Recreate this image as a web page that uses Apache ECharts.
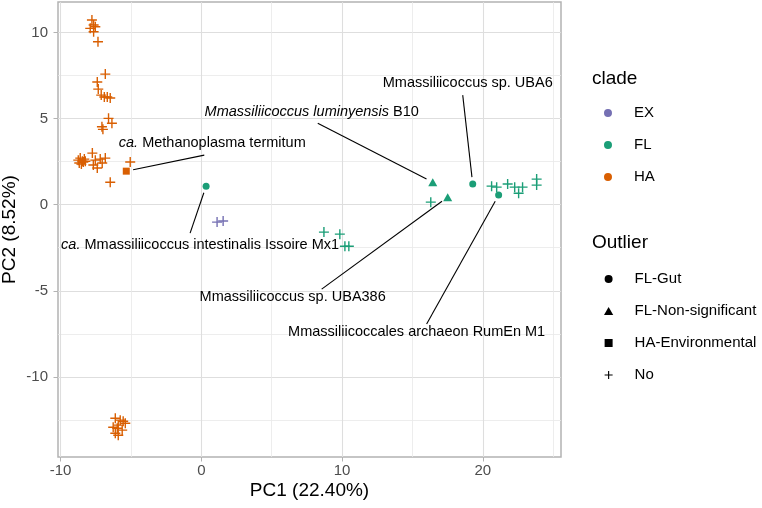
<!DOCTYPE html>
<html><head><meta charset="utf-8">
<script src="https://cdn.jsdelivr.net/npm/echarts@6/dist/echarts.min.js"></script>
<style>html,body{margin:0;padding:0;background:#fff}#c{width:762px;height:508px}</style>
</head><body><div id="c"></div>
<script>
// ---- tick values ----
const xMajorTicks = [-10, 0, 10, 20];
const xMinorTicks = [-5, 5, 15, 25];
const yMajorTicks = [-10, -5, 0, 5, 10];
const yMinorTicks = [-12.5, -7.5, -2.5, 2.5, 7.5];

// ---- categories ----
const cladeNames = ['EX', 'FL', 'HA'];
const outlierNames = ['FL-Gut', 'FL-Non-significant', 'HA-Environmental', 'No'];

// ---- data [PC1, PC2] ----
const EX_No = [[1.12, -1.01], [1.55, -0.95]];
const FL_Gut = [[0.34, 1.08], [19.28, 1.20], [21.12, 0.56]];
const FL_NonSig = [[16.44, 1.31], [17.50, 0.44]];
const FL_No = [[16.30, 0.15], [20.62, 1.08], [20.98, 1.02], [21.76, 1.20], [22.26, 1.02],
  [22.54, 0.67], [22.82, 1.02], [23.82, 1.49], [23.82, 1.14],
  [8.71, -1.59], [9.84, -1.71], [10.20, -2.41], [10.48, -2.41]];
const HA_Env = [[-5.33, 1.95]];
const HA_No = [
  [-7.77, 10.73], [-7.65, 10.44], [-7.89, 10.25], [-7.53, 10.34], [-7.65, 10.05], [-7.34, 9.47],
  [-6.82, 7.59], [-7.39, 7.13], [-7.32, 6.72], [-7.11, 6.37], [-6.89, 6.26], [-6.68, 6.26], [-6.47, 6.20],
  [-6.59, 5.02], [-6.35, 4.73], [-7.06, 4.53], [-6.99, 4.38],
  [-8.74, 2.59], [-8.60, 2.71], [-8.45, 2.53], [-8.31, 2.65], [-8.67, 2.42], [-8.52, 2.36], [-8.38, 2.48], [-8.24, 2.53],
  [-7.74, 3.00], [-7.53, 2.59], [-7.18, 2.65], [-6.82, 2.71], [-7.67, 2.31], [-7.39, 2.13], [-7.04, 2.42],
  [-5.05, 2.48], [-6.47, 1.31],
  [-6.11, -12.41], [-5.76, -12.52], [-5.55, -12.58], [-5.40, -12.70], [-5.90, -12.81],
  [-6.26, -12.93], [-5.97, -12.99], [-5.62, -13.10], [-6.11, -13.28], [-5.90, -13.40]];

// ---- labelled genomes ----
const labelTexts = [
  'Mmassiliicoccus sp. UBA6',
  '{i|Mmassiliicoccus luminyensis} B10',
  '{i|ca.} Methanoplasma termitum',
  '{i|ca.} Mmassiliicoccus intestinalis Issoire Mx1',
  'Mmassiliicoccus sp. UBA386',
  'Mmassiliicoccales archaeon RumEn M1'
];
const labelPoints = [FL_Gut[1], FL_NonSig[0], HA_Env[0], FL_Gut[0], FL_NonSig[1], FL_Gut[2]];

// ---- label layout (pixel offsets: label centre from point, segment end from label centre) ----
const LABEL_LAYOUT = [
  {dx: -5, dy: -101, ex: -5, ey: 12},
  {dx: -121, dy: -70, ex: 6, ey: 11},
  {dx: 86, dy: -28, ex: -8, ey: 12},
  {dx: -6, dy: 59, ex: -10, ey: -12},
  {dx: -155, dy: 100, ex: 29, ey: -8},
  {dx: -82, dy: 137, ex: 10, ey: -8}
];

const FONT = '"Liberation Sans", Arial, Helvetica, sans-serif';
const COLORS = {EX: '#7570B3', FL: '#1B9E77', HA: '#D95F02'};
const PLUS = 'path://M0,4.3H4.3V0H5.7V4.3H10V5.7H5.7V10H4.3V5.7H0Z';
const TRI = 'path://M5,0L10,8.66H0Z';
const SQR = 'path://M0,0H10V10H0Z';
const CIRC = 'path://M5,0A5,5,0,1,1,4.99,0Z';
const SYM = {
  'FL-Gut': {symbol: 'circle', legend: CIRC, size: 7},
  'FL-Non-significant': {symbol: 'triangle', legend: TRI, size: [9, 8]},
  'HA-Environmental': {symbol: 'rect', legend: SQR, size: 7},
  'No': {symbol: PLUS, legend: PLUS, size: 10}
};
const groups = [
  {clade: 'HA', outlier: 'No', data: HA_No},
  {clade: 'HA', outlier: 'HA-Environmental', data: HA_Env},
  {clade: 'EX', outlier: 'No', data: EX_No},
  {clade: 'FL', outlier: 'No', data: FL_No},
  {clade: 'FL', outlier: 'FL-Non-significant', data: FL_NonSig},
  {clade: 'FL', outlier: 'FL-Gut', data: FL_Gut}
];

const series = [];
groups.forEach(g => {
  series.push({
    type: 'scatter', name: g.clade + ' / ' + g.outlier, data: g.data,
    xAxisIndex: 0, yAxisIndex: 0,
    symbol: SYM[g.outlier].symbol, symbolSize: SYM[g.outlier].size,
    itemStyle: {color: COLORS[g.clade], opacity: 1},
    silent: true, z: 3, emphasis: {disabled: true}
  });
});
cladeNames.forEach(n => series.push({type: 'scatter', name: n, data: [], symbol: CIRC,
  symbolKeepAspect: true, itemStyle: {color: COLORS[n], opacity: 1}}));
outlierNames.forEach(n => series.push({type: 'scatter', name: n, data: [], symbol: SYM[n].legend,
  symbolKeepAspect: true, itemStyle: {color: '#000', opacity: 1}}));

const labelStyleBase = {fontSize: 14.5, fontFamily: FONT, fill: '#000'};
series.push({
  type: 'custom', coordinateSystem: 'cartesian2d', xAxisIndex: 0, yAxisIndex: 0,
  data: labelPoints.map((p, i) => [p[0], p[1], i]),
  encode: {x: 0, y: 1}, z: 5, silent: true, clip: false,
  renderItem: function (params, api) {
    const i = api.value(2);
    const L = LABEL_LAYOUT[i];
    const p = api.coord([api.value(0), api.value(1)]);
    const c = [p[0] + L.dx, p[1] + L.dy];
    const e = [c[0] + L.ex, c[1] + L.ey];
    const vx = e[0] - p[0], vy = e[1] - p[1], len = Math.hypot(vx, vy);
    const pad = 7;
    const s = [p[0] + vx / len * pad, p[1] + vy / len * pad];
    return {
      type: 'group', children: [
        {type: 'line', shape: {x1: s[0], y1: s[1], x2: e[0], y2: e[1]},
          style: {stroke: '#000', lineWidth: 1.1}},
        {type: 'text', x: c[0], y: c[1], style: Object.assign({}, labelStyleBase, {
          text: labelTexts[i], align: 'center', verticalAlign: 'middle',
          rich: {i: Object.assign({}, labelStyleBase, {fontStyle: 'italic'})}
        })}
      ]
    };
  }
});

const axisLabelStyle = {color: '#4D4D4D', fontSize: 15, fontFamily: FONT};
const nameStyle = {color: '#000', fontSize: 19, fontFamily: FONT};
const legendText = {fontSize: 15, color: '#000', fontFamily: FONT, lineHeight: 18};
const titleText = {fontSize: 19, fontWeight: 'normal', color: '#000', fontFamily: FONT, lineHeight: 22};

const option = {
  animation: false,
  backgroundColor: '#fff',
  title: [
    {text: 'clade', left: 592, top: 68, padding: 0, textStyle: titleText},
    {text: 'Outlier', left: 592, top: 232, padding: 0, textStyle: titleText}
  ],
  legend: [
    {data: cladeNames, orient: 'vertical', left: 604, top: 104, padding: 0, symbolKeepAspect: true,
      itemWidth: 42, itemHeight: 8, itemGap: 14, selectedMode: false, textStyle: legendText},
    {data: outlierNames, orient: 'vertical', left: 604, top: 270, padding: 0, symbolKeepAspect: true,
      itemWidth: 42, itemHeight: 8, itemGap: 14, selectedMode: false, textStyle: legendText}
  ],
  grid: {left: 58, right: 201, top: 2, bottom: 51, show: true, borderColor: '#B3B3B3',
    borderWidth: 1.5, backgroundColor: 'transparent', containLabel: false, outerBoundsMode: 'none'},
  xAxis: [
    {type: 'value', min: -10.18, max: 25.55, gridIndex: 0, position: 'bottom',
      name: 'PC1 (22.40%)', nameLocation: 'middle', nameGap: 24.5, nameMoveOverlap: false,
      nameTextStyle: nameStyle,
      axisLine: {show: false, onZero: false},
      axisTick: {show: true, customValues: xMajorTicks, length: 4.5, lineStyle: {color: '#B3B3B3', width: 1}},
      axisLabel: {customValues: xMajorTicks, margin: 6, ...axisLabelStyle},
      splitLine: {show: true, lineStyle: {color: '#DEDEDE', width: 1.1}}},
    {type: 'value', min: -10.18, max: 25.55, gridIndex: 0, position: 'top',
      axisLine: {show: false, onZero: false},
      axisTick: {show: false, customValues: xMinorTicks},
      axisLabel: {show: false},
      splitLine: {show: true, lineStyle: {color: '#E9E9E9', width: 0.8}}}
  ],
  yAxis: [
    {type: 'value', min: -14.66, max: 11.78, gridIndex: 0, position: 'left',
      name: 'PC2 (8.52%)', nameLocation: 'middle', nameGap: 38.5, nameMoveOverlap: false,
      nameTextStyle: nameStyle,
      axisLine: {show: false, onZero: false},
      axisTick: {show: true, customValues: yMajorTicks, length: 4.5, lineStyle: {color: '#B3B3B3', width: 1}},
      axisLabel: {customValues: yMajorTicks, margin: 10, ...axisLabelStyle},
      splitLine: {show: true, lineStyle: {color: '#DEDEDE', width: 1.1}}},
    {type: 'value', min: -14.66, max: 11.78, gridIndex: 0, position: 'right',
      axisLine: {show: false, onZero: false},
      axisTick: {show: false, customValues: yMinorTicks},
      axisLabel: {show: false},
      splitLine: {show: true, lineStyle: {color: '#E9E9E9', width: 0.8}}}
  ],
  series: series
};

const chart = echarts.init(document.getElementById('c'), null, {renderer: 'canvas'});
chart.setOption(option);
</script>
</body></html>
